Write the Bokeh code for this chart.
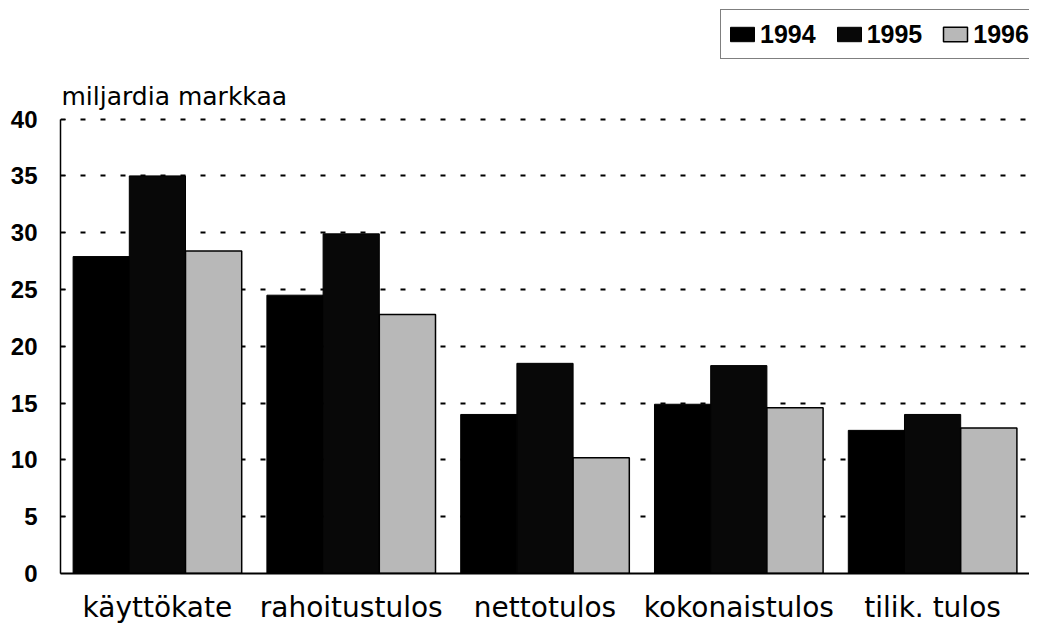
from bokeh.plotting import figure
from bokeh.models import (FactorRange, Range1d, FixedTicker, Legend, LegendItem,
                          Label, ColumnDataSource)
from bokeh.transform import dodge
from bokeh.embed import file_html
from bokeh.resources import INLINE

categories = ["käyttökate", "rahoitustulos", "nettotulos", "kokonaistulos", "tilik. tulos"]
years = ["1994", "1995", "1996"]
v1994 = [27.9, 24.5, 14.0, 14.9, 12.6]
v1995 = [35.0, 29.9, 18.5, 18.3, 14.0]
v1996 = [28.4, 22.8, 10.2, 14.6, 12.8]
y_ticks = [0, 5, 10, 15, 20, 25, 30, 35, 40]
y_title = "miljardia markkaa"

src = ColumnDataSource(dict(cat=categories, y1994=v1994, y1995=v1995, y1996=v1996))

# frame spans the full height so that the legend and title (drawn inside it) are not clipped;
# the visible axis stops at 40
p = figure(x_range=FactorRange(factors=categories), y_range=Range1d(0, 50.44),
           width=1029, height=626, output_backend="svg", toolbar_location=None, title=None,
           min_border_left=60, min_border_right=0, min_border_top=0, min_border_bottom=51)
p.outline_line_color = None
p.background_fill_color = "white"

# grid
p.xgrid.grid_line_color = None
p.ygrid.grid_line_color = "black"
p.ygrid.grid_line_width = 2.2
p.ygrid.grid_line_dash = "5 15"
p.ygrid.ticker = FixedTicker(ticks=y_ticks)

# y axis
p.yaxis.ticker = FixedTicker(ticks=y_ticks)
p.yaxis.bounds = (y_ticks[0], y_ticks[-1])
p.yaxis.axis_line_color = "black"
p.yaxis.axis_line_width = 1.5
p.yaxis.major_tick_in = 5
p.yaxis.major_tick_out = 0
p.yaxis.minor_tick_line_color = None
p.yaxis.major_label_standoff = 23
p.yaxis.major_label_text_font = "Liberation Sans"
p.yaxis.major_label_text_font_style = "bold"
p.yaxis.major_label_text_font_size = "24px"
p.yaxis.major_label_text_color = "black"

# x axis
p.xaxis.axis_line_color = "black"
p.xaxis.axis_line_width = 2
p.xaxis.major_tick_line_color = None
p.xaxis.minor_tick_line_color = None
p.xaxis.major_label_standoff = 11
p.xaxis.major_label_text_font = "DejaVu Sans"
p.xaxis.major_label_text_font_size = "28px"
p.xaxis.major_label_text_color = "black"

w = 0.29
r1 = p.vbar(x=dodge("cat", -0.29, range=p.x_range), top="y1994", width=w, source=src,
            fill_color="black", line_color="black", line_width=1)
r2 = p.vbar(x=dodge("cat", 0.0, range=p.x_range), top="y1995", width=w, source=src,
            fill_color="#080808", line_color="black", line_width=1)
r3 = p.vbar(x=dodge("cat", 0.29, range=p.x_range), top="y1996", width=w, source=src,
            fill_color="#b8b8b8", line_color="black", line_width=1.5)

p.add_layout(Label(x=0, y=42.0, text=y_title, x_offset=1, text_baseline="alphabetic",
                   text_font="DejaVu Sans", text_font_size="25px", text_color="black"))

legend = Legend(items=[LegendItem(label=years[0], renderers=[r1]),
                       LegendItem(label=years[1], renderers=[r2]),
                       LegendItem(label=years[2], renderers=[r3])],
                orientation="horizontal", location=(660, 514),
                label_text_font="Liberation Sans", label_text_font_style="bold",
                label_text_font_size="25px", label_text_color="black", label_height=36,
                glyph_width=30, glyph_height=18, label_standoff=3, spacing=18,
                padding=6, margin=0, border_line_color="black", border_line_width=1.5,
                background_fill_color="white", background_fill_alpha=1)
p.add_layout(legend, "center")

open("out.html", "w").write(file_html(p, INLINE))
